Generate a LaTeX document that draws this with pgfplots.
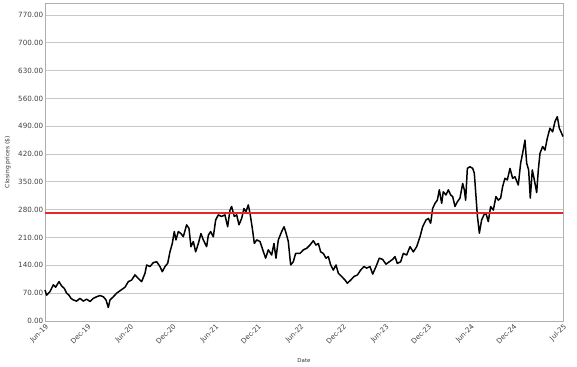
\documentclass[border=0pt]{standalone}
\usepackage{pgfplots}
\pgfplotsset{compat=1.18}
\usepackage{fontspec}
\setmainfont{DejaVu Sans}
\definecolor{gridc}{RGB}{200,200,200}
\definecolor{boxc}{RGB}{175,175,175}
\definecolor{redl}{RGB}{228,40,40}
\begin{document}
\begin{tikzpicture}
\path (-45bp,-46bp) rectangle (532bp,321bp);
\begin{axis}[
  at={(0,0)}, anchor=south west,
  scale only axis, width=518bp, height=318bp,
  xmin=0, xmax=73, ymin=0, ymax=800,
  xtick={0,6,12,18,24,30,36,42,48,54,60,66,73},
  xticklabels={Jun-19,Dec-19,Jun-20,Dec-20,Jun-21,Dec-21,Jun-22,Dec-22,Jun-23,Dec-23,Jun-24,Dec-24,Jul-25},
  ytick={0,70,...,770},
  major tick length=0pt,
  ymajorgrids, grid style={gridc, line width=0.8pt},
  axis line style={boxc, line width=0.8pt},
  /pgf/number format/assume math mode=true,
  yticklabel style={/pgf/number format/fixed, /pgf/number format/fixed zerofill, /pgf/number format/precision=2, font=\fontsize{7.2}{8}\selectfont, text=black!75, inner xsep=1.5pt},
  xticklabel style={rotate=45, anchor=north east, font=\fontsize{7}{8}\selectfont, text=black!75, inner sep=1.5pt},
  xlabel={Date}, ylabel={Closing prices (\$)},
  xlabel style={font=\fontsize{5.5}{6}\selectfont, text=black!80, at={(axis description cs:0.5,-0.123)}, anchor=center},
  ylabel style={font=\fontsize{6}{7}\selectfont, text=black!80, at={(axis description cs:-0.072,0.5)}, anchor=center},
  clip=false,
]
\addplot[black, line width=1.5pt, line join=round] coordinates {
(0.00,78)(0.23,65)(0.70,74)(1.17,91)(1.50,85)(1.97,99)(2.35,88)(2.72,82)(3.05,70)(3.38,65)
(3.66,57)(3.99,53)(4.46,50)(4.93,57)(5.40,50)(5.87,55)(6.34,49)(6.81,57)(7.28,61)(7.75,64)
(8.22,61)(8.60,53)(8.92,34)(9.16,53)(9.63,61)(10.10,70)(10.57,76)(11.27,85)(11.74,99)(12.21,103)
(12.68,116)(13.15,107)(13.62,99)(14.09,120)(14.33,141)(14.80,137)(15.27,147)(15.74,149)(16.20,137)(16.53,124)
(16.91,137)(17.29,145)(17.61,174)(17.94,195)(18.22,225)(18.46,204)(18.79,225)(19.16,220)(19.49,212)(19.96,242)
(20.29,233)(20.57,187)(20.90,200)(21.23,174)(21.61,195)(21.98,220)(22.31,204)(22.78,187)(23.02,216)(23.34,225)
(23.72,212)(24.05,254)(24.42,267)(24.89,263)(25.36,267)(25.74,237)(26.07,279)(26.30,288)(26.68,263)(27.01,267)
(27.34,242)(27.71,258)(28.04,283)(28.32,275)(28.65,292)(28.89,271)(29.22,233)(29.50,195)(29.83,204)(30.30,200)
(30.62,183)(31.09,158)(31.47,179)(31.94,166)(32.27,195)(32.55,158)(32.88,204)(33.35,225)(33.68,237)(33.91,225)
(34.29,200)(34.62,141)(34.99,149)(35.32,170)(35.79,170)
(35.94,170)(36.41,179)(36.88,183)(37.34,191)(37.81,202)(38.19,191)(38.52,195)(38.85,174)(39.22,170)(39.60,158)
(39.93,162)(40.26,141)(40.63,128)(41.01,141)(41.34,120)(41.81,112)(42.28,103)(42.61,95)(43.08,103)(43.55,112)
(44.04,116)(44.48,128)(44.95,137)(45.33,133)(45.80,137)(46.18,118)(46.65,137)(47.11,158)(47.58,155)(48.05,143)
(48.52,149)(48.99,155)(49.32,162)(49.65,145)(50.12,149)(50.50,170)(50.97,166)(51.44,187)(51.91,174)(52.38,187)
(52.85,212)(53.22,237)(53.69,254)(54.02,258)(54.35,246)(54.63,283)(54.96,296)(55.29,304)(55.57,330)(55.90,296)
(56.13,325)(56.51,317)(56.84,330)(57.17,317)(57.45,313)(57.78,288)(58.11,300)(58.48,309)(58.86,346)(59.09,330)
(59.28,304)(59.52,384)(59.89,388)(60.27,384)(60.50,372)(60.74,313)(60.92,267)(61.21,221)(61.53,254)(61.86,267)
(62.14,271)(62.47,250)(62.80,288)(63.18,279)(63.55,313)(63.88,304)(64.21,309)(64.49,338)(64.82,359)(65.15,355)
(65.53,384)(65.90,359)(66.23,363)(66.70,342)(67.03,397)(67.31,422)(67.64,455)(67.88,397)(68.16,380)(68.39,309)
(68.67,380)(68.96,355)(69.29,323)(69.52,380)(69.76,422)(70.13,439)(70.46,430)(70.79,460)(71.16,485)(71.54,476)
(71.87,502)(72.20,514)(72.48,485)(72.81,472)(73.00,464)
};
\addplot[redl, line width=1.6pt] coordinates {(0,272)(73,272)};
\end{axis}
\end{tikzpicture}
\end{document}
